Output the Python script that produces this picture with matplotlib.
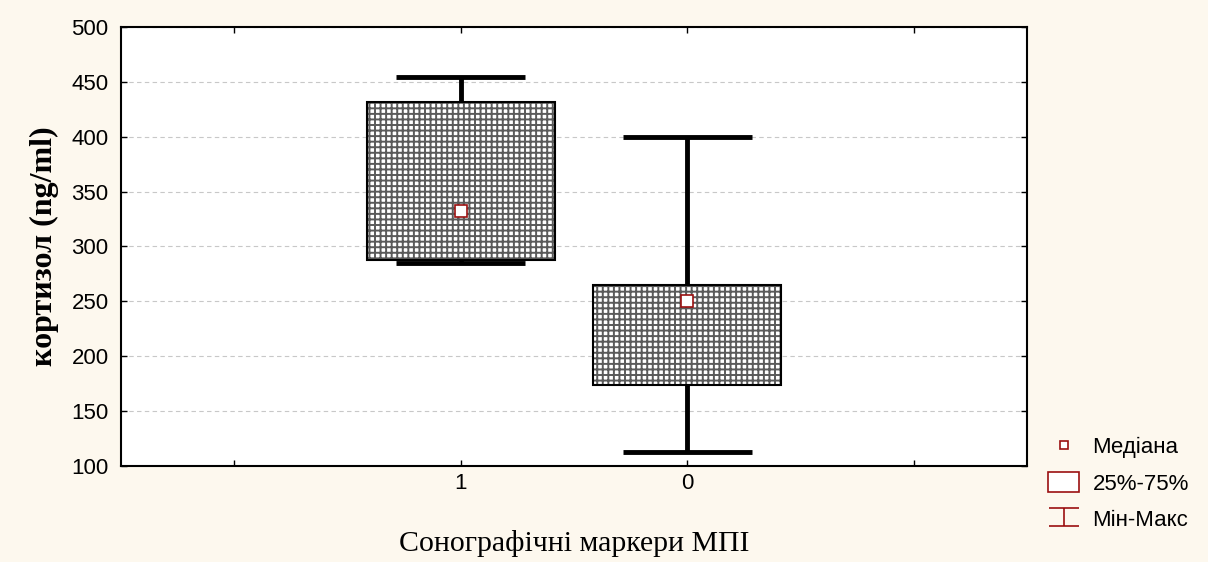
import matplotlib.pyplot as plt
import numpy as np
from matplotlib.lines import Line2D
from matplotlib.patches import Patch
from matplotlib.path import Path

#====Data====
groups = ['1', '0']
v_min = [285, 113]
v_q1 = [288, 174]
v_med = [332, 250]
v_q3 = [432, 265]
v_max = [454, 400]

bg = '#fdf8ee'
red = '#9b1010'
plt.rcParams['hatch.linewidth'] = 1.4

fig = plt.figure(figsize=(12.08, 5.62), dpi=100, facecolor=bg)
ax = fig.add_axes([0.1002, 0.1708, 0.75, 0.7812])
ax.set_facecolor('white')

pos = np.arange(1, len(groups) + 1)
lo = np.array(v_q1)
hi = np.array(v_q3)

#====Boxes: hatch layer + outline====
ax.bar(pos, hi - lo, bottom=lo, width=0.83, facecolor='white',
       edgecolor='#5a5a5a', linewidth=0, hatch='+++', zorder=2)
ax.bar(pos, hi - lo, bottom=lo, width=0.83, facecolor='none',
       edgecolor='black', linewidth=1.5, zorder=3)

#====Whiskers and caps====
ax.vlines(pos, v_q3, v_max, color='black', lw=3.5, zorder=1)
ax.vlines(pos, v_min, v_q1, color='black', lw=3.5, zorder=1)
ax.hlines(v_max, pos - 0.285, pos + 0.285, color='black', lw=3.5, zorder=4)
ax.hlines(v_min, pos - 0.285, pos + 0.285, color='black', lw=3.5, zorder=4)

#====Median====
ax.plot(pos, v_med, 's', ms=8, mfc='white', mec=red, mew=1.2, zorder=5)

#====Axes====
ax.set_xlim(-0.5, 3.5)
ax.set_ylim(100, 500)
ax.set_xticks([0, 1, 2, 3])
ax.set_xticklabels([''] + groups + [''])
ax.set_yticks(np.arange(100, 501, 50))
ax.tick_params(direction='in', top=True, right=True, length=4, width=1,
               labelsize=16)
ax.tick_params(axis='y', pad=9)
ax.tick_params(axis='x', pad=5)
for t in ax.get_xticklabels() + ax.get_yticklabels():
    t.set_family('Liberation Sans')
ax.yaxis.grid(True, ls=(0, (4, 3)), color='#c8c8c8', lw=0.8)
ax.set_axisbelow(True)
for s in ax.spines.values():
    s.set_linewidth(1.5)

ax.set_ylabel('кортизол (ng/ml)', family='Liberation Serif', weight='bold',
              fontsize=23, labelpad=9)
ax.set_xlabel('Сонографічні маркери МПІ', family='Liberation Serif',
              fontsize=21.5, labelpad=26)

#====Legend====
imark = Path([(-1, 0.6), (1, 0.6), (0, 0.6), (0, -0.6), (-1, -0.6), (1, -0.6)],
             [Path.MOVETO, Path.LINETO, Path.MOVETO, Path.LINETO,
              Path.MOVETO, Path.LINETO])
handles = [
    Line2D([], [], ls='none', marker='s', ms=6, mfc='white', mec=red, mew=1.2),
    Patch(facecolor='white', edgecolor=red, linewidth=1.2),
    Line2D([], [], ls='none', marker=imark, ms=22, mec=red, mew=1.2),
]
fig.legend(handles, ['Медіана', '25%-75%', 'Мін-Макс'], loc='upper left',
           bbox_to_anchor=(0.851, 0.26), frameon=False,
           prop={'family': 'Liberation Sans', 'size': 16},
           handlelength=1.4, handleheight=1.0, handletextpad=0.6,
           labelspacing=0.62)

fig.savefig('out.png', dpi=100, facecolor=bg)
